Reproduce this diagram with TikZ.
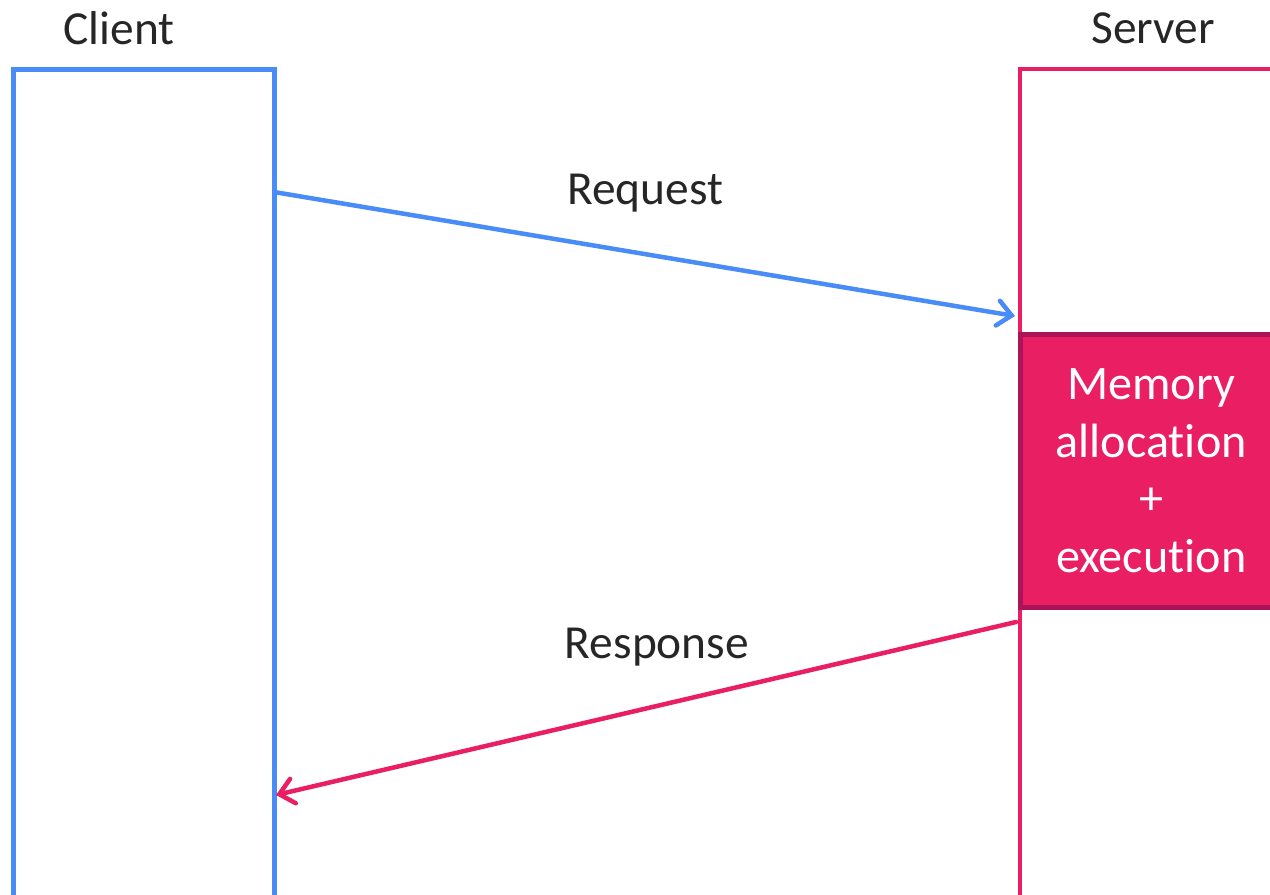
\documentclass[tikz,border=0pt]{standalone}
\usepackage{fontspec}
\setmainfont{Carlito}[Ligatures=NoCommon]
\usepackage{tikz}
\usetikzlibrary{arrows.meta}
\usepackage{xcolor}
\definecolor{clientblue}{RGB}{74,140,247}
\definecolor{serverpink}{RGB}{233,30,99}
\definecolor{darkpink}{RGB}{173,20,87}
\definecolor{labelgray}{RGB}{38,38,38}

\begin{document}
\begin{tikzpicture}[
		lane/.style={draw,line width=0.05cm,minimum width=2.61cm,minimum height=9cm,anchor=north west,inner sep=0pt},
		work/.style={fill=serverpink,draw=darkpink,line width=0.045cm,minimum width=2.62cm,minimum height=2.73cm,anchor=north west,text=white,align=center,font=\fontsize{13.7}{16.4}\selectfont},
		title/.style={text=labelgray,font=\fontsize{13.5}{16}\selectfont},
		msg/.style={line width=0.045cm,line cap=round,-{Straight Barb[length=1.4mm,width=2.5mm,line cap=round]}}
	]
	\useasboundingbox (0,0) rectangle (12.7,-8.94);
	\clip (0,0) rectangle (12.7,-8.94);
	% lanes
	\node[lane,draw=clientblue] (client) at (0.11,-0.67) {};
	\node[lane,draw=serverpink,line width=0.04cm] (server) at (10.18,-0.67) {};
	\node[work] (alloc) at (10.18,-3.32) {Memory\\allocation\\+\\execution};
	\node[title] (clientname) at (1.19,-0.28) {Client};
	\node[title] (servername) at (11.53,-0.28) {Server};
	% messages
	\coordinate (reqfrom) at (2.74,-1.92);
	\coordinate (reqto) at (10.15,-3.16);
	\coordinate (resfrom) at (10.16,-6.22);
	\coordinate (resto) at (2.76,-7.95);
	\draw[msg,clientblue] (reqfrom) -- (reqto);
	\draw[msg,serverpink] (resfrom) -- (resto);
	\node[title] (reqname) at (6.45,-1.93) {Request};
	\node[title] (resname) at (6.57,-6.47) {Response};
\end{tikzpicture}
\end{document}
